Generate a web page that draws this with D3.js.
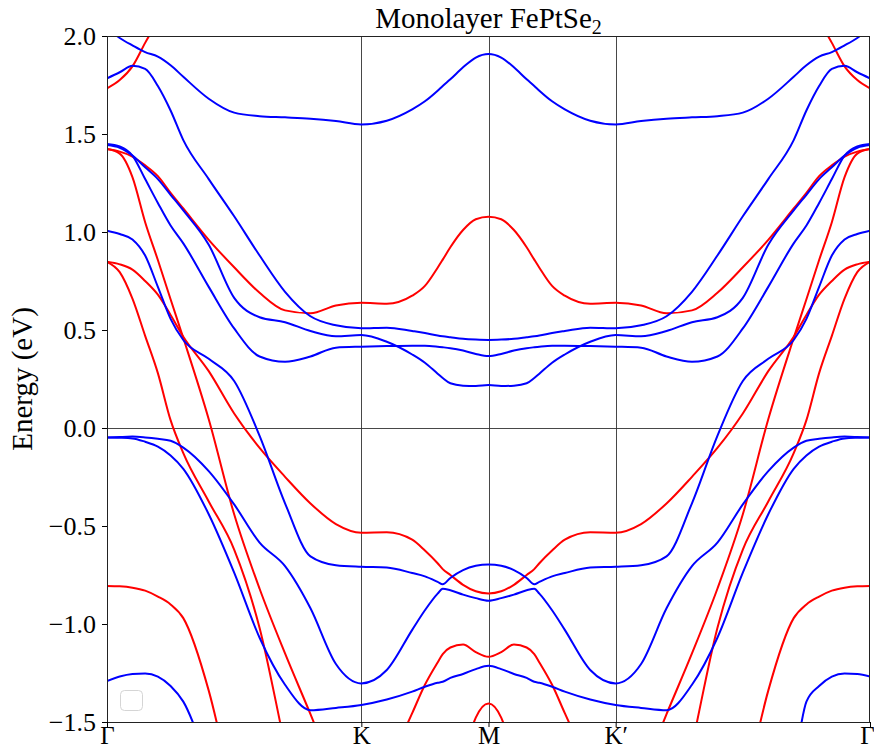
<!DOCTYPE html>
<html><head><meta charset="utf-8">
<script src="https://cdn.jsdelivr.net/npm/d3@7"></script>
<style>
body{margin:0;background:#fff}
text{font-family:"Liberation Serif","Times New Roman",serif;fill:#000}
</style>
</head><body>
<svg id="c" width="874" height="749"></svg>
<script>
// k-path coordinate: Γ=0, K=1, M=1.5, K'=2, Γ=3
const kPoints = [0,0.05,0.1,0.15,0.2,0.25,0.3,0.4,0.5,0.6,0.7,0.8,0.9,1.0,1.1,1.2,1.25,1.3,1.32,1.35,1.4,1.45,1.5,
  1.55,1.6,1.65,1.68,1.7,1.75,1.8,1.9,2.0,2.1,2.2,2.3,2.4,2.5,2.6,2.7,2.75,2.8,2.85,2.9,2.95,3.0];
const kTickPos = [0,1,1.5,2,3];
const kTickLabels = ["Γ","K","M","K′","Γ"];
const energyTicks = [2,1.5,1,0.5,0,-0.5,-1,-1.5];
const N = null;

// spin-up (red) bands
const red1 = [1.733,1.775,1.845,1.965,2.08,2.2,2.33,N,N,N,N,N,N,N,N,N,N,N,N,N,N,N,N,
  N,N,N,N,N,N,N,N,N,N,N,N,N,N,N,2.33,2.2,2.08,1.965,1.845,1.775,1.733];
const red2 = [1.423,1.40,1.28,1.05,0.857,0.657,0.459,0.045,-0.44,-0.82,-1.15,-1.46,-1.78,N,N,N,N,N,N,N,N,N,N,
  N,N,N,N,N,N,N,N,N,-1.78,-1.46,-1.15,-0.82,-0.44,0.045,0.459,0.657,0.857,1.05,1.28,1.40,1.423];
const red3 = [0.848,0.795,0.66,0.47,0.28,0.04,-0.128,-0.375,-0.62,-1.02,-1.62,-2.2,N,N,N,N,N,N,N,N,N,N,N,
  N,N,N,N,N,N,N,N,N,N,-2.2,-1.62,-1.02,-0.62,-0.375,-0.128,0.04,0.28,0.47,0.66,0.795,0.848];
const red4 = [0.848,0.835,0.808,0.75,0.68,0.577,0.466,0.29,0.074,-0.102,-0.249,-0.385,-0.49,-0.534,-0.532,-0.57,-0.625,-0.69,-0.72,-0.75,-0.80,-0.833,-0.844,
  -0.833,-0.80,-0.75,-0.72,-0.69,-0.625,-0.57,-0.532,-0.534,-0.49,-0.385,-0.249,-0.102,0.074,0.29,0.466,0.577,0.68,0.75,0.808,0.835,0.848];
const red5 = [-0.806,-0.808,-0.815,-0.83,-0.86,-0.90,-0.97,-1.34,-1.90,-2.5,N,N,N,N,N,N,N,N,N,N,N,N,N,
  N,N,N,N,N,N,N,N,N,N,N,N,-2.5,-1.90,-1.34,-0.97,-0.90,-0.86,-0.83,-0.815,-0.808,-0.806];
const red6 = [1.423,1.41,1.385,1.34,1.285,1.20,1.12,0.96,0.82,0.69,0.60,0.585,0.625,0.639,0.634,0.675,0.725,0.818,0.859,0.922,1.01,1.065,1.078,
  1.065,1.01,0.922,0.859,0.818,0.725,0.675,0.634,0.639,0.625,0.585,0.60,0.69,0.82,0.96,1.12,1.20,1.285,1.34,1.385,1.41,1.423];
const red7 = [N,N,N,N,N,N,N,N,N,N,N,N,N,N,-1.74,-1.455,-1.31,-1.196,-1.154,-1.12,-1.105,-1.143,-1.167,
  -1.143,-1.105,-1.12,-1.154,-1.196,-1.31,-1.455,-1.74,N,N,N,N,N,N,N,N,N,N,N,N,N,N];
const red8 = [N,N,N,N,N,N,N,N,N,N,N,N,N,N,N,N,N,N,N,-2.06,-1.70,-1.478,-1.405,
  -1.478,-1.70,-2.06,N,N,N,N,N,N,N,N,N,N,N,N,N,N,N,N,N,N,N];

// spin-down (blue) bands
const blue1 = [2.04,1.99,1.952,1.918,1.895,1.851,1.792,1.68,1.609,1.591,1.585,1.578,1.566,1.549,1.568,1.626,1.667,1.721,1.745,1.779,1.84,1.89,1.908,
  1.89,1.84,1.779,1.745,1.721,1.667,1.626,1.568,1.549,1.566,1.578,1.585,1.591,1.609,1.68,1.792,1.851,1.895,1.918,1.952,1.99,2.04];
const blue2 = [1.784,1.815,1.848,1.832,1.745,1.62,1.469,1.27,1.08,0.88,0.695,0.57,0.524,0.509,0.512,0.495,0.485,0.472,0.468,0.463,0.455,0.451,0.449,
  0.451,0.455,0.463,0.468,0.472,0.485,0.495,0.512,0.509,0.524,0.57,0.695,0.88,1.08,1.27,1.469,1.62,1.745,1.832,1.848,1.815,1.784];
const blue3 = [1.449,1.437,1.39,1.27,1.148,1.033,0.942,0.72,0.508,0.365,0.338,0.365,0.41,0.415,0.418,0.42,0.42,0.415,0.412,0.407,0.395,0.378,0.367,
  0.378,0.395,0.407,0.412,0.415,0.42,0.42,0.418,0.415,0.41,0.365,0.338,0.365,0.508,0.72,0.942,1.033,1.148,1.27,1.39,1.437,1.449];
const blue4 = [1.444,1.43,1.39,1.33,1.27,1.19,1.11,0.935,0.664,0.565,0.54,0.495,0.468,0.474,0.44,0.375,0.333,0.277,0.255,0.228,0.216,0.214,0.219,
  0.214,0.216,0.228,0.255,0.277,0.333,0.375,0.44,0.474,0.468,0.495,0.54,0.565,0.664,0.935,1.11,1.19,1.27,1.33,1.39,1.43,1.444];
const blue5 = [1.007,0.99,0.962,0.88,0.72,0.557,0.449,0.353,0.24,-0.04,-0.384,-0.655,-0.70,-0.708,-0.712,-0.74,-0.757,-0.785,-0.797,-0.765,-0.725,-0.703,-0.696,
  -0.703,-0.725,-0.765,-0.797,-0.785,-0.757,-0.74,-0.712,-0.708,-0.70,-0.655,-0.384,-0.04,0.24,0.353,0.449,0.557,0.72,0.88,0.962,0.99,1.007];
const blue6 = [-0.049,-0.046,-0.044,-0.048,-0.055,-0.065,-0.10,-0.22,-0.39,-0.585,-0.705,-0.92,-1.204,-1.303,-1.235,-1.03,-0.93,-0.845,-0.82,-0.828,-0.85,-0.868,-0.881,
  -0.868,-0.85,-0.828,-0.82,-0.845,-0.93,-1.03,-1.235,-1.303,-1.204,-0.92,-0.705,-0.585,-0.39,-0.22,-0.10,-0.065,-0.055,-0.048,-0.044,-0.046,-0.049];
const blue7 = [-0.049,-0.05,-0.053,-0.07,-0.095,-0.14,-0.208,-0.44,-0.738,-1.07,-1.31,-1.44,-1.428,-1.413,-1.385,-1.345,-1.32,-1.30,-1.295,-1.275,-1.255,-1.23,-1.213,
  -1.23,-1.255,-1.275,-1.295,-1.30,-1.32,-1.345,-1.385,-1.413,-1.428,-1.44,-1.31,-1.07,-0.738,-0.44,-0.208,-0.14,-0.095,-0.07,-0.053,-0.05,-0.049];
const blue8 = [-1.291,-1.268,-1.255,-1.252,-1.268,-1.316,-1.396,-1.72,-2.1,N,N,N,N,N,N,N,N,N,N,N,N,N,N,
  N,N,N,N,N,N,N,N,N,N,N,N,N,N,-2.1,-1.72,-1.396,-1.316,-1.268,-1.252,-1.255,-1.268,-1.291];

const redBands = [red1,red2,red3,red4,red5,red6,red7,red8];
const blueBands = [blue1,blue2,blue3,blue4,blue5,blue6,blue7,blue8];

const W = 874, H = 749;
const m = {left:107, right:870, top:36, bottom:722};
const svg = d3.select("#c");
const x = d3.scaleLinear().domain([0,3]).range([m.left, m.right]);
const y = d3.scaleLinear().domain([-1.5,2]).range([m.bottom, m.top]);

svg.append("rect").attr("width",W).attr("height",H).attr("fill","#fff");

svg.append("defs").append("clipPath").attr("id","plot")
  .append("rect").attr("x",m.left).attr("y",m.top)
  .attr("width",m.right-m.left).attr("height",m.bottom-m.top);

// reference lines
const g = svg.append("g");
g.selectAll("line.v").data(kTickPos.slice(1,4)).join("line")
  .attr("x1",d=>Math.round(x(d))+0.5).attr("x2",d=>Math.round(x(d))+0.5)
  .attr("y1",m.top).attr("y2",m.bottom)
  .attr("stroke","#333").attr("stroke-width",0.9);
g.append("line")
  .attr("x1",m.left).attr("x2",m.right)
  .attr("y1",Math.round(y(0))+0.5).attr("y2",Math.round(y(0))+0.5)
  .attr("stroke","#333").attr("stroke-width",0.9);

const line = d3.line()
  .defined(d=>d[1]!=null)
  .x(d=>x(d[0])).y(d=>y(d[1]))
  .curve(d3.curveMonotoneX);

const bandsG = svg.append("g").attr("clip-path","url(#plot)");
function drawBands(list, color){
  list.forEach(b=>{
    const pts = kPoints.map((k,i)=>[k,b[i]]);
    bandsG.append("path").attr("d",line(pts))
      .attr("fill","none").attr("stroke",color).attr("stroke-width",2)
      .attr("stroke-linejoin","round");
  });
}
drawBands(redBands,"#ff0000");
drawBands(blueBands,"#0000ff");

// frame
svg.append("rect").attr("x",m.left+0.5).attr("y",m.top+0.5)
  .attr("width",m.right-m.left-1).attr("height",m.bottom-m.top)
  .attr("fill","none").attr("stroke","#222").attr("stroke-width",1);

// axes
const yAxis = d3.axisLeft(y).tickValues(energyTicks).tickSize(5).tickPadding(6)
  .tickFormat(d3.format(".1f"));
const ya = svg.append("g").attr("transform",`translate(${m.left},0)`).call(yAxis);
ya.select(".domain").remove();
ya.selectAll("text").style("font-family",'"Liberation Serif",serif').style("font-size","26px");

const xAxis = d3.axisBottom(x).tickValues(kTickPos).tickSize(5).tickPadding(0)
  .tickFormat((d,i)=>kTickLabels[i]);
const xa = svg.append("g").attr("transform",`translate(0,${m.bottom})`).call(xAxis);
xa.select(".domain").remove();
xa.selectAll("text").style("font-family",'"Liberation Serif",serif').style("font-size","25px")
  .attr("dy","0.66em")
  .attr("dx",(d,i)=> i===kTickPos.length-1 ? -3 : 0);

// title
const t = svg.append("text").attr("x",(m.left+m.right)/2).attr("y",28)
  .attr("text-anchor","middle").style("font-size","29px");
t.append("tspan").text("Monolayer FePtSe");
t.append("tspan").attr("dy",6).style("font-size","20px").text("2");

// y label
svg.append("text").attr("transform",`translate(32,${(m.top+m.bottom)/2}) rotate(-90)`)
  .attr("text-anchor","middle").style("font-size","29px").text("Energy (eV)");

// empty legend box
svg.append("rect").attr("x",120.5).attr("y",690.5).attr("width",22).attr("height",20)
  .attr("rx",4).attr("fill","#fff").attr("fill-opacity",0.8)
  .attr("stroke","#d5d5d5").attr("stroke-width",1);
</script>
</body></html>
